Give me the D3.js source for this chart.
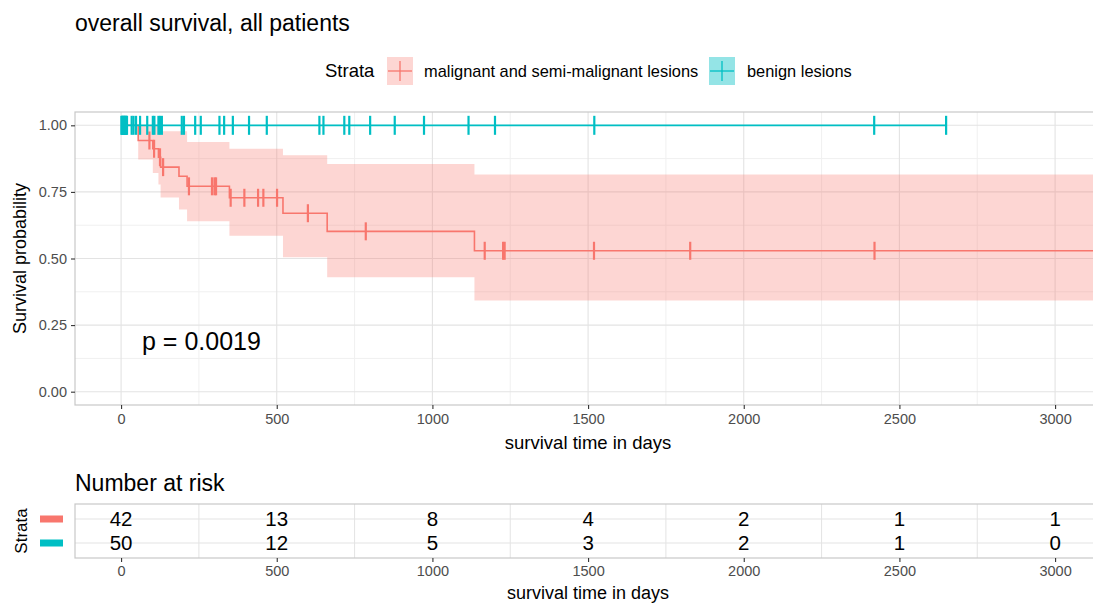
<!DOCTYPE html>
<html>
<head>
<meta charset="utf-8">
<script src="https://cdn.jsdelivr.net/npm/d3@7"></script>
<style>
  body { margin: 0; background: #fff; }
  svg { font-family: "Liberation Sans", Arial, sans-serif; display: block; }
</style>
</head>
<body>
<svg id="chart" width="1093" height="605"></svg>
<script>

  // strata
  var strata = ["malignant and semi-malignant lesions", "benign lesions"];
  var strataColors = ["#F8766D", "#00BFC4"];

  // malignant: KM steps (day, survival, ci)
  var malTimes = [0, 55, 102, 120, 127, 186, 212, 348, 520, 662, 1135];
  var malSurv = [1, 0.943, 0.912, 0.88, 0.843, 0.809, 0.771, 0.728, 0.670, 0.602, 0.529];
  var malUpper = [1, 1, 1, 1, 0.978, 0.978, 0.937, 0.912, 0.888, 0.855, 0.815];
  var malLower = [1, 0.872, 0.821, 0.778, 0.729, 0.684, 0.640, 0.585, 0.505, 0.430, 0.342];
  var malLastTime = 3130;
  var malCensor = [91, 106, 125, 135, 218, 292, 300, 305, 352, 396, 440, 457, 501, 600, 786,
    1168, 1227, 1232, 1519, 1828, 2420];

  // benign: no events
  var benTimes = [0];
  var benSurv = [1];
  var benLastTime = 2650;
  var benCensor = [1, 3, 5, 7, 9, 11, 13, 15, 17, 19, 34, 40, 48, 61, 84, 102, 107, 120, 125, 131,
    195, 202, 238, 256, 316, 331, 359, 411, 468, 637, 650, 717, 733, 800, 879, 973, 1116, 1201,
    1520, 2419, 2650];

  // number at risk
  var riskTimes = [0, 500, 1000, 1500, 2000, 2500, 3000];
  var malRisk = [42, 13, 8, 4, 2, 1, 1];
  var benRisk = [50, 12, 5, 3, 2, 1, 0];

  var xTicks = [0, 500, 1000, 1500, 2000, 2500, 3000];
  var yTicks = [0, 0.25, 0.5, 0.75, 1];
  var pValueText = "p = 0.0019";

  var PANEL_LEFT = 75;
  var PANEL_RIGHT = 1094;
  var PLOT_TOP = 112;
  var PLOT_BOTTOM = 405;
  var TABLE_TOP = 504;
  var TABLE_BOTTOM = 558;
  var AXIS_TEXT = "#4D4D4D";
  var GRID_MAJOR = "#E3E3E3";
  var GRID_MINOR = "#F0F0F0";
  var BORDER = "#C8C8C8";
  var TICK_FONT = "14.5px";

  var svg = d3.select("#chart");

  var x = d3.scaleLinear()
    .domain([-148, 3125])
    .range([PANEL_LEFT, PANEL_RIGHT]);

  var y = d3.scaleLinear()
    .domain([-0.05, 1.05])
    .range([PLOT_BOTTOM, PLOT_TOP]);

  function survAt(times, surv, t) {
    var i = d3.bisectRight(times, t) - 1;
    return surv[Math.max(0, i)];
  }

  function stepData(times, values, lastTime) {
    var pts = times.map(function (t, i) { return [t, values[i]]; });
    pts.push([lastTime, values[values.length - 1]]);
    return pts;
  }

  function styleAxis(ax) {
    ax.select(".domain").remove();
    ax.selectAll(".tick line").style("stroke", "#333").style("stroke-width", 1.1);
    ax.selectAll(".tick text")
      .style("font-size", TICK_FONT)
      .style("font-family", "'Liberation Sans', Arial, sans-serif")
      .style("fill", AXIS_TEXT);
  }

  svg.append("clipPath").attr("id", "plotClip")
    .append("rect")
    .attr("x", PANEL_LEFT).attr("y", PLOT_TOP)
    .attr("width", PANEL_RIGHT - PANEL_LEFT).attr("height", PLOT_BOTTOM - PLOT_TOP);

  // title
  svg.append("text")
    .attr("x", PANEL_LEFT).attr("y", 31)
    .style("font-size", "23px")
    .style("fill", "#000")
    .text("overall survival, all patients");

  // legend
  var legend = svg.append("g").attr("transform", "translate(0,71)");
  legend.append("text")
    .attr("x", 325).attr("y", 0).attr("dy", "0.35em")
    .style("font-size", "18.5px")
    .text("Strata");

  var legendItems = [
    { x: 387, label: strata[0], color: strataColors[0], alpha: 0.3, textX: 424 },
    { x: 709, label: strata[1], color: strataColors[1], alpha: 0.42, textX: 747 }
  ];
  legendItems.forEach(function (item) {
    var g = legend.append("g").attr("transform", "translate(" + item.x + ",0)");
    g.append("rect")
      .attr("x", 0).attr("y", -14).attr("width", 26).attr("height", 28)
      .style("fill", item.color).style("fill-opacity", item.alpha);
    g.append("line")
      .attr("x1", 1).attr("x2", 25).attr("y1", 0).attr("y2", 0)
      .style("stroke", item.color).style("stroke-width", 1.3);
    g.append("line")
      .attr("x1", 13).attr("x2", 13).attr("y1", -10).attr("y2", 10)
      .style("stroke", item.color).style("stroke-width", 1.3);
    legend.append("text")
      .attr("x", item.textX).attr("y", 0).attr("dy", "0.35em")
      .style("font-size", "16.4px")
      .text(item.label);
  });

  // main panel grid
  var plot = svg.append("g");
  var minorX = d3.range(-250, 3500, 500);
  var minorY = [0.125, 0.375, 0.625, 0.875];

  plot.selectAll("line.minor-x").data(minorX).enter().append("line")
    .attr("x1", function (d) { return x(d); }).attr("x2", function (d) { return x(d); })
    .attr("y1", PLOT_TOP).attr("y2", PLOT_BOTTOM)
    .style("stroke", GRID_MINOR).attr("clip-path", "url(#plotClip)");
  plot.selectAll("line.minor-y").data(minorY).enter().append("line")
    .attr("x1", PANEL_LEFT).attr("x2", PANEL_RIGHT)
    .attr("y1", function (d) { return y(d); }).attr("y2", function (d) { return y(d); })
    .style("stroke", GRID_MINOR);
  plot.selectAll("line.major-x").data(xTicks).enter().append("line")
    .attr("x1", function (d) { return x(d); }).attr("x2", function (d) { return x(d); })
    .attr("y1", PLOT_TOP).attr("y2", PLOT_BOTTOM)
    .style("stroke", GRID_MAJOR).style("stroke-width", 1.1);
  plot.selectAll("line.major-y").data(yTicks).enter().append("line")
    .attr("x1", PANEL_LEFT).attr("x2", PANEL_RIGHT)
    .attr("y1", function (d) { return y(d); }).attr("y2", function (d) { return y(d); })
    .style("stroke", GRID_MAJOR).style("stroke-width", 1.1);

  var marks = plot.append("g").attr("clip-path", "url(#plotClip)");

  // confidence band
  var bandData = malTimes.map(function (t, i) { return { t: t, lo: malLower[i], hi: malUpper[i] }; });
  bandData.push({ t: malLastTime, lo: malLower[malLower.length - 1], hi: malUpper[malUpper.length - 1] });

  marks.append("path")
    .datum(bandData)
    .attr("d", d3.area()
      .curve(d3.curveStepAfter)
      .x(function (d) { return x(d.t); })
      .y0(function (d) { return y(d.lo); })
      .y1(function (d) { return y(d.hi); }))
    .style("fill", strataColors[0]).style("fill-opacity", 0.3);

  var stepLine = d3.line()
    .curve(d3.curveStepAfter)
    .x(function (d) { return x(d[0]); })
    .y(function (d) { return y(d[1]); });

  marks.append("path")
    .datum(stepData(malTimes, malSurv, malLastTime))
    .attr("d", stepLine)
    .style("fill", "none").style("stroke", strataColors[0]).style("stroke-width", 1.6);

  marks.append("path")
    .datum(stepData(benTimes, benSurv, benLastTime))
    .attr("d", stepLine)
    .style("fill", "none").style("stroke", strataColors[1]).style("stroke-width", 1.8);

  // censor ticks
  function drawCensor(times, surv, censor, color, half) {
    marks.append("g").selectAll("line").data(censor).enter().append("line")
      .attr("x1", function (d) { return x(d); })
      .attr("x2", function (d) { return x(d); })
      .attr("y1", function (d) { return y(survAt(times, surv, d)) - half; })
      .attr("y2", function (d) { return y(survAt(times, surv, d)) + half; })
      .style("stroke", color).style("stroke-width", 2.2);
  }
  drawCensor(malTimes, malSurv, malCensor, strataColors[0], 9);
  drawCensor(benTimes, benSurv, benCensor, strataColors[1], 9.5);

  // panel border
  svg.append("rect")
    .attr("x", PANEL_LEFT).attr("y", PLOT_TOP)
    .attr("width", PANEL_RIGHT - PANEL_LEFT).attr("height", PLOT_BOTTOM - PLOT_TOP)
    .style("fill", "none").style("stroke", BORDER).style("stroke-width", 1.2);

  // axes
  styleAxis(svg.append("g")
    .attr("transform", "translate(" + PANEL_LEFT + ",0)")
    .call(d3.axisLeft(y).tickValues(yTicks).tickFormat(d3.format(".2f")).tickSize(4).tickPadding(4)));
  styleAxis(svg.append("g")
    .attr("transform", "translate(0," + PLOT_BOTTOM + ")")
    .call(d3.axisBottom(x).tickValues(xTicks).tickFormat(d3.format("d")).tickSize(4).tickPadding(5)));

  svg.append("text")
    .attr("transform", "translate(20," + y(0.5) + ") rotate(-90)")
    .attr("text-anchor", "middle").attr("dy", "0.35em")
    .style("font-size", "18px")
    .text("Survival probability");

  svg.append("text")
    .attr("x", x(1500)).attr("y", 449)
    .attr("text-anchor", "middle")
    .style("font-size", "18.5px")
    .text("survival time in days");

  svg.append("text")
    .attr("x", 142).attr("y", 341).attr("dy", "0.35em")
    .style("font-size", "25px")
    .text(pValueText);

  // risk table
  svg.append("text")
    .attr("x", PANEL_LEFT).attr("y", 491)
    .style("font-size", "23px")
    .text("Number at risk");

  var row = d3.scalePoint()
    .domain(strata)
    .range([TABLE_TOP, TABLE_BOTTOM])
    .padding(0.625);

  var table = svg.append("g");
  table.selectAll("line.rv").data(minorX).enter().append("line")
    .attr("x1", function (d) { return x(d); }).attr("x2", function (d) { return x(d); })
    .attr("y1", TABLE_TOP).attr("y2", TABLE_BOTTOM)
    .style("stroke", GRID_MAJOR)
    .style("display", function (d) { return x(d) > PANEL_LEFT && x(d) < PANEL_RIGHT ? null : "none"; });
  table.selectAll("line.rh").data(strata).enter().append("line")
    .attr("x1", PANEL_LEFT).attr("x2", PANEL_RIGHT)
    .attr("y1", function (d) { return row(d); }).attr("y2", function (d) { return row(d); })
    .style("stroke", GRID_MAJOR).style("stroke-width", 1.1);

  [malRisk, benRisk].forEach(function (counts, si) {
    table.append("g").selectAll("text").data(counts).enter().append("text")
      .attr("x", function (d, i) { return x(riskTimes[i]); })
      .attr("y", row(strata[si]))
      .attr("dy", "0.36em")
      .attr("text-anchor", "middle")
      .style("font-size", "20.5px")
      .text(function (d) { return d; });
  });

  table.append("rect")
    .attr("x", PANEL_LEFT).attr("y", TABLE_TOP)
    .attr("width", PANEL_RIGHT - PANEL_LEFT).attr("height", TABLE_BOTTOM - TABLE_TOP)
    .style("fill", "none").style("stroke", BORDER).style("stroke-width", 1.2);

  // strata colour keys
  strata.forEach(function (s, i) {
    svg.append("rect")
      .attr("x", 40).attr("y", row(s) - 3.5)
      .attr("width", 23).attr("height", 7)
      .style("fill", strataColors[i]);
  });

  svg.append("text")
    .attr("transform", "translate(21," + ((TABLE_TOP + TABLE_BOTTOM) / 2) + ") rotate(-90)")
    .attr("text-anchor", "middle").attr("dy", "0.35em")
    .style("font-size", "17px")
    .text("Strata");

  var tableAxis = svg.append("g")
    .attr("transform", "translate(0," + TABLE_BOTTOM + ")")
    .call(d3.axisBottom(x).tickValues(xTicks).tickFormat(d3.format("d")).tickSize(4).tickPadding(4));
  styleAxis(tableAxis);

  svg.append("text")
    .attr("x", x(1500)).attr("y", 599)
    .attr("text-anchor", "middle")
    .style("font-size", "18px")
    .text("survival time in days");

</script>
</body>
</html>
